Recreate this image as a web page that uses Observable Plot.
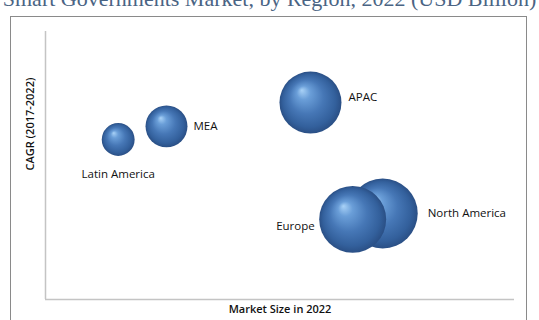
<!DOCTYPE html>
<html>
<head>
<meta charset="utf-8">
<script src="https://cdn.jsdelivr.net/npm/d3@7"></script>
<script src="https://cdn.jsdelivr.net/npm/@observablehq/plot@0.6"></script>
<style>
  html, body { margin: 0; padding: 0; background: #fff; }
  #wrap { position: relative; width: 539px; height: 320px; overflow: hidden; }
  #title { position: absolute; left: 0; width: 539px; top: -11.9px; line-height: 22px; height: 22px;
           font-family: "Liberation Serif", serif; font-size: 22px; color: #4a6484; text-align: center; white-space: nowrap; }
  #box { position: absolute; left: 10px; top: 16px; width: 517px; height: 320px; border: 1px solid #8a8a8a; box-sizing: border-box; }
  #chart { position: absolute; left: 0; top: 0; }
</style>
</head>
<body>
<div id="wrap">
  <div id="title">Smart Governments Market, by Region, 2022 (USD Billion)</div>
  <div id="box"></div>
  <div id="chart"></div>
</div>
<script>
const regions = ["Latin America", "MEA", "APAC", "North America", "Europe"];
const marketSize = [15.5, 25.8, 56.5, 71.9, 65.5];
const cagr = [59.7, 64.6, 73.5, 32.1, 29.9];
const bubbleSize = [5.4, 8.8, 19.2, 24.5, 22.4];
const xTitle = "Market Size in 2022";
const yTitle = "CAGR (2017-2022)";

const data = regions.map((region, i) => ({region, x: marketSize[i], y: cagr[i], s: bubbleSize[i]}));
const lbl = {fontFamily: "Open Sans", fontSize: 11.5, fontWeight: 500, fill: "#111"};
const pick = name => data.filter(d => d.region === name);

const chart = Plot.plot({
  width: 539,
  height: 320,
  marginLeft: 45,
  marginRight: 25,
  marginTop: 31,
  marginBottom: 21,
  x: {domain: [0, 100], axis: null},
  y: {domain: [0, 100], axis: null},
  r: {type: "sqrt", domain: [0, 24.5], range: [0, 35]},
  marks: [
    Plot.ruleX([0], {stroke: "#c4c4c4", strokeWidth: 1.5}),
    Plot.ruleY([0], {stroke: "#c4c4c4", strokeWidth: 1.5}),
    Plot.dot(data, {x: "x", y: "y", r: "s", fill: "url(#sphere)", stroke: "none"}),
    Plot.text(pick("MEA"), {x: "x", y: "y", text: "region", textAnchor: "start", dx: 27, ...lbl}),
    Plot.text(pick("APAC"), {x: "x", y: "y", text: "region", textAnchor: "start", dx: 38, dy: -5, ...lbl}),
    Plot.text(pick("North America"), {x: "x", y: "y", text: "region", textAnchor: "start", dx: 45, ...lbl}),
    Plot.text(pick("Europe"), {x: "x", y: "y", text: "region", textAnchor: "end", dx: -38, dy: 7, ...lbl}),
    Plot.text(pick("Latin America"), {x: "x", y: "y", text: "region", dy: 35, ...lbl}),
    Plot.text([xTitle], {frameAnchor: "bottom", dy: 13, fontFamily: "Open Sans", fontWeight: 600, fontSize: 11, fill: "#111"}),
    Plot.text([yTitle], {frameAnchor: "left", rotate: -90, dx: -15, dy: 5, fontFamily: "Open Sans", fontWeight: 600, fontSize: 11, fill: "#111"})
  ]
});

const svg = d3.select(chart);
const defs = svg.insert("defs", ":first-child");
const g = defs.append("radialGradient").attr("id", "sphere")
  .attr("cx", "0.5").attr("cy", "0.5").attr("r", "0.5")
  .attr("fx", "0.36").attr("fy", "0.3");
[[0, "#a9d2f7"], [0.22, "#6a9ed8"], [0.55, "#4677b6"], [0.85, "#33609c"], [1, "#2a4f85"]]
  .forEach(([o, c]) => g.append("stop").attr("offset", o).attr("stop-color", c));
document.getElementById("chart").appendChild(chart);
</script>
</body>
</html>
